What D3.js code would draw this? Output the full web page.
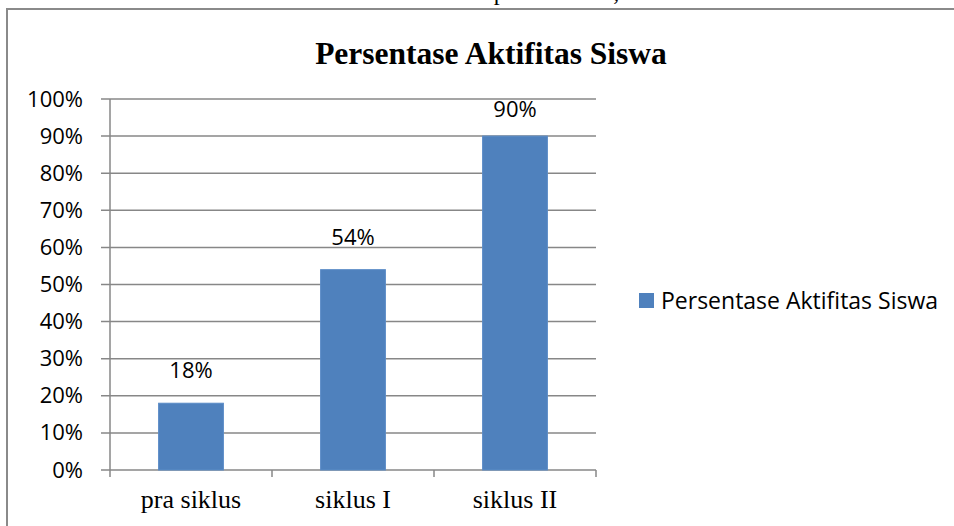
<!DOCTYPE html>
<meta charset="utf-8">
<style>
body { margin: 0; background: #fff; }
svg text { fill: #000; }
.grid line { stroke: #878787; stroke-width: 1.5px; }
.tick-label { font-family: "Open Sans", sans-serif; font-size: 22px; }
.cat-label { font-family: "Liberation Serif", "Times New Roman", serif; font-size: 26px; }
</style>
<svg width="954" height="526"></svg>
<script src="https://d3js.org/d3.v7.min.js"></script>
<script>

var categories = ["pra siklus", "siklus I", "siklus II"];
var values = [0.18, 0.54, 0.90];
var yTicks = [0, 0.1, 0.2, 0.3, 0.4, 0.5, 0.6, 0.7, 0.8, 0.9, 1.0];
var seriesName = "Persentase Aktifitas Siswa";
var title = "Persentase Aktifitas Siswa";

var svg = d3.select("svg"),
    width = +svg.attr("width"),
    height = +svg.attr("height");

var margin = {left: 110, top: 99, right: 358, bottom: 56};

var x = d3.scaleBand()
    .domain(categories)
    .range([margin.left, width - margin.right])
    .padding(0);

var y = d3.scaleLinear()
    .domain([0, 1])
    .range([height - margin.bottom, margin.top]);

var fmt = d3.format(".0%");

// line of body text above the chart, cut off by the page edge
svg.append("text")
    .attr("x", 115)
    .attr("y", 0)
    .attr("textLength", 775)
    .attr("fill", "#333")
    .style("font-family", "Liberation Serif, serif")
    .style("font-size", "24px")
    .text("Persentase aktifitas siswa dari pra siklus, siklus I dan siklus II.");

// chart frame
svg.append("rect")
    .attr("x", 7)
    .attr("y", 9)
    .attr("width", 960)
    .attr("height", 540)
    .attr("fill", "none")
    .attr("stroke", "#8a8a8a")
    .attr("stroke-width", 2);

svg.append("text")
    .attr("x", 491)
    .attr("y", 64)
    .attr("text-anchor", "middle")
    .style("font-family", "Liberation Serif, serif")
    .style("font-weight", "bold")
    .style("font-size", "31.5px")
    .text(title);

// gridlines + y ticks
var grid = svg.append("g").attr("class", "grid");
grid.selectAll("line")
    .data(yTicks)
    .enter().append("line")
      .attr("x1", margin.left - 9)
      .attr("x2", width - margin.right)
      .attr("y1", function(d) { return y(d); })
      .attr("y2", function(d) { return y(d); });

// y axis line
grid.append("line")
    .attr("x1", margin.left).attr("x2", margin.left)
    .attr("y1", y(1)).attr("y2", y(0) + 7);

// x boundary ticks
grid.selectAll(".xt")
    .data(categories.slice(1).concat([null]))
    .enter().append("line")
      .attr("class", "xt")
      .attr("x1", function(d) { return d ? x(d) : x.range()[1]; })
      .attr("x2", function(d) { return d ? x(d) : x.range()[1]; })
      .attr("y1", y(0))
      .attr("y2", y(0) + 7);

var yAxis = svg.append("g")
    .attr("transform", "translate(" + margin.left + ",0)")
    .call(d3.axisLeft(y).tickValues(yTicks).tickFormat(fmt).tickSize(0).tickPadding(27));
yAxis.select(".domain").remove();
yAxis.selectAll("text")
    .attr("class", "tick-label")
    .attr("fill", "#000")
    .attr("font-family", null)
    .attr("font-size", null);

var xAxis = svg.append("g")
    .attr("transform", "translate(0," + y(0) + ")")
    .call(d3.axisBottom(x).tickSize(0).tickPadding(20));
xAxis.select(".domain").remove();
xAxis.selectAll("text")
    .attr("class", "cat-label")
    .attr("fill", "#000")
    .attr("font-family", null)
    .attr("font-size", null);

// bars
var barW = x.bandwidth() * 0.4;
svg.append("g")
  .selectAll("rect")
  .data(values)
  .enter().append("rect")
    .attr("x", function(d, i) { return x(categories[i]) + (x.bandwidth() - barW) / 2; })
    .attr("y", function(d) { return y(d); })
    .attr("width", barW)
    .attr("height", function(d) { return y(0) - y(d); })
    .attr("fill", "#4f81bd")
    .attr("stroke", "#5b8cc7")
    .attr("stroke-width", 1);

// value labels (kept inside the plot area, like excel does)
svg.append("g")
  .selectAll("text")
  .data(values)
  .enter().append("text")
    .attr("class", "tick-label")
    .attr("x", function(d, i) { return x(categories[i]) + x.bandwidth() / 2; })
    .attr("y", function(d) { return Math.max(y(d) - 25, y(1) + 17.5); })
    .attr("text-anchor", "middle")
    .text(function(d) { return fmt(d); });

// legend
var legend = svg.append("g").attr("transform", "translate(639,293)");
legend.append("rect")
    .attr("width", 15).attr("height", 15)
    .attr("fill", "#4f81bd");
legend.append("text")
    .attr("class", "tick-label")
    .attr("x", 22)
    .attr("y", 15.5)
    .style("font-size", "23px")
    .text(seriesName);

</script>
